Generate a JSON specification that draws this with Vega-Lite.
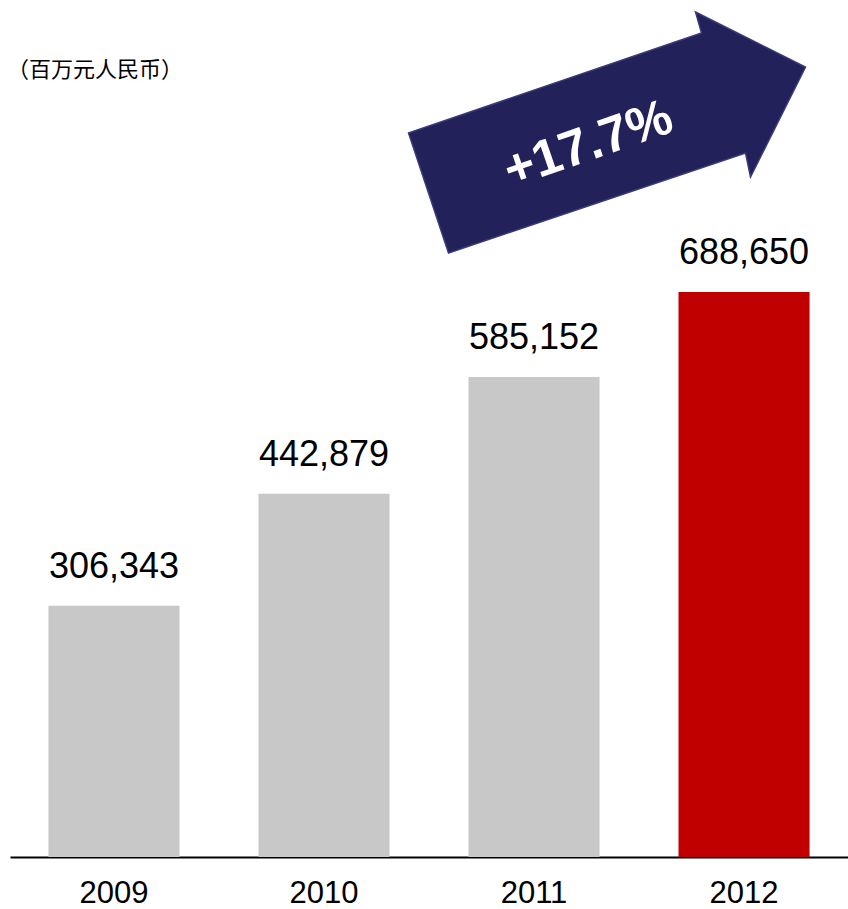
{
  "$schema": "https://vega.github.io/schema/vega-lite/v6.json",
  "width": 838,
  "height": 757,
  "autosize": {"type": "none"},
  "padding": {"left": 10, "top": 100, "right": 0, "bottom": 52},
  "background": "white",
  "title": {
    "text": "（百万元人民币）",
    "anchor": "start",
    "frame": "group",
    "orient": "top",
    "offset": -73,
    "dx": -3,
    "font": "Noto Sans CJK SC",
    "fontSize": 22,
    "fontWeight": "normal",
    "color": "#000000"
  },
  "config": {"view": {"stroke": null}},
  "datasets": {
    "sales": [
      {"year": "2009", "value": 306343},
      {"year": "2010", "value": 442879},
      {"year": "2011", "value": 585152},
      {"year": "2012", "value": 688650}
    ],
    "growth": [
      {"year": "2011", "value": 870260, "label": "+17.7%"}
    ]
  },
  "layer": [
    {
      "data": {"name": "sales"},
      "mark": {"type": "bar"},
      "encoding": {
        "x": {
          "field": "year",
          "type": "nominal",
          "scale": {"paddingInner": 0.376, "paddingOuter": 0.183},
          "axis": {
            "title": null,
            "labelAngle": 0,
            "labelFont": "Liberation Sans",
            "labelFontSize": 31,
            "labelColor": "#000000",
            "labelBaseline": "alphabetic",
            "labelPadding": 45,
            "ticks": false,
            "tickSize": 0,
            "domainColor": "#000000",
            "domainWidth": 2,
            "grid": false
          }
        },
        "y": {
          "field": "value",
          "type": "quantitative",
          "scale": {"domain": [0, 922670], "nice": false},
          "axis": null
        },
        "color": {
          "field": "year",
          "type": "nominal",
          "scale": {
            "domain": ["2009", "2010", "2011", "2012"],
            "range": ["#c8c8c8", "#c8c8c8", "#c8c8c8", "#c00000"]
          },
          "legend": null
        }
      }
    },
    {
      "data": {"name": "sales"},
      "mark": {
        "type": "text",
        "font": "Liberation Sans",
        "fontSize": 36,
        "baseline": "alphabetic",
        "align": "center",
        "dy": -28,
        "color": "#000000"
      },
      "encoding": {
        "x": {"field": "year", "type": "nominal"},
        "y": {"field": "value", "type": "quantitative"},
        "text": {"field": "value", "type": "quantitative", "format": ","}
      }
    },
    {
      "data": {"name": "growth"},
      "mark": {
        "type": "point",
        "shape": "M-125.5,-10 L167.5,-110 L161.5,-131 L271.5,-76 L216.5,34 L211.5,10 L-85.5,110 Z",
        "size": 4,
        "filled": true,
        "fill": "#22215a",
        "stroke": "#3b3a78",
        "strokeWidth": 1.5,
        "opacity": 1
      },
      "encoding": {
        "x": {"field": "year", "type": "nominal"},
        "y": {"field": "value", "type": "quantitative"}
      }
    },
    {
      "data": {"name": "growth"},
      "mark": {
        "type": "text",
        "font": "Liberation Sans",
        "fontSize": 51,
        "fontWeight": "bold",
        "color": "#ffffff",
        "align": "center",
        "baseline": "middle",
        "angle": -19,
        "xOffset": 54.5,
        "yOffset": 2
      },
      "encoding": {
        "x": {"field": "year", "type": "nominal"},
        "y": {"field": "value", "type": "quantitative"},
        "text": {"field": "label", "type": "nominal"}
      }
    }
  ]
}
